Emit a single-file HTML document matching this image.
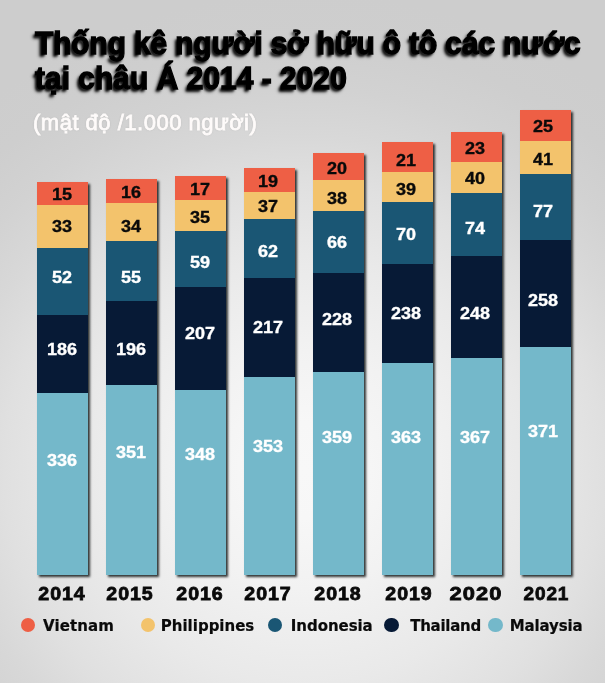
<!DOCTYPE html>
<html lang="vi"><head><meta charset="utf-8"><title>Thống kê người sở hữu ô tô</title>
<style>
html,body{margin:0;padding:0}
body{width:605px;height:683px;overflow:hidden;position:relative;background:#cdcdcd;font-family:"Liberation Sans",sans-serif}
#bg{position:absolute;left:0;top:0;width:605px;height:683px;
 background:radial-gradient(ellipse 500px 477px at 304px 470px, #f8f8f8 0%, #f7f7f7 10%, #f2f2f2 25%, #e9e9e9 45%, #e0e0e0 60%, #d8d8d8 70%, #d2d2d2 80%, #cecece 90%, #cdcdcd 100%)}
.title{margin:0;font-size:30px;font-weight:bold}
.tl{position:absolute;left:35px;height:35px;font-size:30px;line-height:35px;font-weight:bold;color:#000;white-space:nowrap;
 -webkit-text-stroke:1.2px #000;text-shadow:-2.5px 2.5px 3px rgba(0,0,0,.9),-1.5px 1.5px 2px rgba(0,0,0,.6);
 transform-origin:0 27.9px;transform:scaleY(1.06)}
.l1{top:26.4px;letter-spacing:-0.15px}
.l2{top:61.4px}
.sub{position:absolute;left:33px;top:110px;margin:0;font-size:22px;line-height:26px;color:#fefbfa;white-space:nowrap;
 letter-spacing:0.5px;-webkit-text-stroke:0.8px #fefbfa;text-shadow:0 0 2px rgba(130,130,130,.4)}
.bar{position:absolute;width:51.1px;box-shadow:2px 2px 2.2px rgba(15,20,20,.85)}
.seg{position:absolute;left:0;width:100%}
.n{position:absolute;width:60px;margin-left:-30px;text-align:center;font-family:"Liberation Sans",sans-serif;font-weight:bold;font-size:17.0px;line-height:20px;height:20px;letter-spacing:0;-webkit-text-stroke:0.35px currentColor;transform:scaleX(1.06)}
.yr{position:absolute;top:581.5px;width:80px;margin-left:-40px;text-align:center;font-family:"Liberation Sans",sans-serif;font-weight:bold;font-size:19px;line-height:24px;color:#0a0a0a;letter-spacing:0.9px;-webkit-text-stroke:0.8px #0a0a0a;transform:scaleX(1.03)}
.dot{position:absolute;width:14.4px;height:14.4px;border-radius:50%;top:617.6px}
.lg{position:absolute;top:616px;font-family:"DejaVu Sans","Liberation Sans",sans-serif;font-weight:bold;font-size:15px;line-height:20px;color:#0a0a0a;white-space:nowrap;letter-spacing:-0.2px;-webkit-text-stroke:0.2px #0a0a0a}
</style></head><body>
<div id="bg"></div>
<h1 class="title"><span class="tl l1">Thống kê người sở hữu ô tô các nước</span> <span class="tl l2">tại châu Á 2014 - 2020</span></h1>
<p class="sub">(mật độ /1.000 người)</p>

<div class="bar" style="left:37.4px;top:182.0px;height:393.0px">
<div class="seg" style="top:0.0px;height:23.7px;background:#ee5f45"></div>
<div class="seg" style="top:23.4px;height:42.7px;background:#f3c36c"></div>
<div class="seg" style="top:65.8px;height:67.7px;background:#1a5674"></div>
<div class="seg" style="top:133.2px;height:78.1px;background:#071a36"></div>
<div class="seg" style="top:211.0px;height:182.0px;background:#74b8ca"></div>
<div class="n" style="left:24.6px;top:3.4px;color:#0a0a0a">15</div>
<div class="n" style="left:24.6px;top:34.7px;color:#0a0a0a">33</div>
<div class="n" style="left:24.6px;top:85.7px;color:#ffffff">52</div>
<div class="n" style="left:24.6px;top:158.4px;color:#ffffff">186</div>
<div class="n" style="left:24.6px;top:269.0px;color:#ffffff">336</div>
</div>
<div class="yr" style="left:62.2px">2014</div>
<div class="bar" style="left:106.4px;top:179.3px;height:395.7px">
<div class="seg" style="top:0.0px;height:23.9px;background:#ee5f45"></div>
<div class="seg" style="top:23.6px;height:38.7px;background:#f3c36c"></div>
<div class="seg" style="top:62.0px;height:59.8px;background:#1a5674"></div>
<div class="seg" style="top:121.5px;height:84.4px;background:#071a36"></div>
<div class="seg" style="top:205.6px;height:190.1px;background:#74b8ca"></div>
<div class="n" style="left:24.2px;top:4.1px;color:#0a0a0a">16</div>
<div class="n" style="left:24.2px;top:37.4px;color:#0a0a0a">34</div>
<div class="n" style="left:24.2px;top:88.4px;color:#ffffff">55</div>
<div class="n" style="left:24.2px;top:161.1px;color:#ffffff">196</div>
<div class="n" style="left:24.2px;top:263.4px;color:#ffffff">351</div>
</div>
<div class="yr" style="left:129.9px">2015</div>
<div class="bar" style="left:175.4px;top:175.9px;height:399.1px">
<div class="seg" style="top:0.0px;height:24.2px;background:#ee5f45"></div>
<div class="seg" style="top:23.9px;height:31.1px;background:#f3c36c"></div>
<div class="seg" style="top:54.7px;height:56.7px;background:#1a5674"></div>
<div class="seg" style="top:111.1px;height:103.2px;background:#071a36"></div>
<div class="seg" style="top:214.0px;height:185.1px;background:#74b8ca"></div>
<div class="n" style="left:24.2px;top:4.6px;color:#0a0a0a">17</div>
<div class="n" style="left:24.2px;top:31.9px;color:#0a0a0a">35</div>
<div class="n" style="left:24.2px;top:77.1px;color:#ffffff">59</div>
<div class="n" style="left:24.2px;top:147.8px;color:#ffffff">207</div>
<div class="n" style="left:24.2px;top:269.1px;color:#ffffff">348</div>
</div>
<div class="yr" style="left:199.9px">2016</div>
<div class="bar" style="left:244.4px;top:168.0px;height:407.0px">
<div class="seg" style="top:0.0px;height:24.4px;background:#ee5f45"></div>
<div class="seg" style="top:24.1px;height:26.9px;background:#f3c36c"></div>
<div class="seg" style="top:50.7px;height:59.3px;background:#1a5674"></div>
<div class="seg" style="top:109.7px;height:99.5px;background:#071a36"></div>
<div class="seg" style="top:208.9px;height:198.1px;background:#74b8ca"></div>
<div class="n" style="left:24.0px;top:3.5px;color:#0a0a0a">19</div>
<div class="n" style="left:24.0px;top:29.4px;color:#0a0a0a">37</div>
<div class="n" style="left:24.0px;top:74.1px;color:#ffffff">62</div>
<div class="n" style="left:24.0px;top:149.9px;color:#ffffff">217</div>
<div class="n" style="left:24.0px;top:268.7px;color:#ffffff">353</div>
</div>
<div class="yr" style="left:267.7px">2017</div>
<div class="bar" style="left:313.4px;top:153.1px;height:421.9px">
<div class="seg" style="top:0.0px;height:27.0px;background:#ee5f45"></div>
<div class="seg" style="top:26.7px;height:31.1px;background:#f3c36c"></div>
<div class="seg" style="top:57.5px;height:62.4px;background:#1a5674"></div>
<div class="seg" style="top:119.6px;height:99.6px;background:#071a36"></div>
<div class="seg" style="top:218.9px;height:203.0px;background:#74b8ca"></div>
<div class="n" style="left:24.1px;top:5.8px;color:#0a0a0a">20</div>
<div class="n" style="left:24.1px;top:35.9px;color:#0a0a0a">38</div>
<div class="n" style="left:24.1px;top:80.3px;color:#ffffff">66</div>
<div class="n" style="left:24.1px;top:156.6px;color:#ffffff">228</div>
<div class="n" style="left:24.1px;top:275.1px;color:#ffffff">359</div>
</div>
<div class="yr" style="left:338.3px">2018</div>
<div class="bar" style="left:382.4px;top:142.0px;height:433.0px">
<div class="seg" style="top:0.0px;height:30.4px;background:#ee5f45"></div>
<div class="seg" style="top:30.1px;height:30.0px;background:#f3c36c"></div>
<div class="seg" style="top:59.8px;height:62.3px;background:#1a5674"></div>
<div class="seg" style="top:121.8px;height:99.5px;background:#071a36"></div>
<div class="seg" style="top:221.0px;height:212.0px;background:#74b8ca"></div>
<div class="n" style="left:23.6px;top:8.8px;color:#0a0a0a">21</div>
<div class="n" style="left:23.6px;top:38.4px;color:#0a0a0a">39</div>
<div class="n" style="left:23.6px;top:82.9px;color:#ffffff">70</div>
<div class="n" style="left:23.6px;top:161.9px;color:#ffffff">238</div>
<div class="n" style="left:23.6px;top:286.2px;color:#ffffff">363</div>
</div>
<div class="yr" style="left:408.5px">2019</div>
<div class="bar" style="left:451.4px;top:131.9px;height:443.1px">
<div class="seg" style="top:0.0px;height:30.2px;background:#ee5f45"></div>
<div class="seg" style="top:29.9px;height:31.1px;background:#f3c36c"></div>
<div class="seg" style="top:60.7px;height:64.0px;background:#1a5674"></div>
<div class="seg" style="top:124.4px;height:102.2px;background:#071a36"></div>
<div class="seg" style="top:226.3px;height:216.8px;background:#74b8ca"></div>
<div class="n" style="left:23.9px;top:7.4px;color:#0a0a0a">23</div>
<div class="n" style="left:23.9px;top:37.5px;color:#0a0a0a">40</div>
<div class="n" style="left:23.9px;top:87.3px;color:#ffffff">74</div>
<div class="n" style="left:23.9px;top:171.8px;color:#ffffff">248</div>
<div class="n" style="left:23.9px;top:296.3px;color:#ffffff">367</div>
</div>
<div class="yr" style="left:475.9px;transform:scaleX(1.15)">2020</div>
<div class="bar" style="left:520.4px;top:109.7px;height:465.3px">
<div class="seg" style="top:0.0px;height:31.8px;background:#ee5f45"></div>
<div class="seg" style="top:31.5px;height:33.1px;background:#f3c36c"></div>
<div class="seg" style="top:64.3px;height:66.7px;background:#1a5674"></div>
<div class="seg" style="top:130.7px;height:106.5px;background:#071a36"></div>
<div class="seg" style="top:236.9px;height:228.4px;background:#74b8ca"></div>
<div class="n" style="left:23.1px;top:7.6px;color:#0a0a0a">25</div>
<div class="n" style="left:23.1px;top:40.0px;color:#0a0a0a">41</div>
<div class="n" style="left:23.1px;top:92.0px;color:#ffffff">77</div>
<div class="n" style="left:23.1px;top:181.0px;color:#ffffff">258</div>
<div class="n" style="left:23.1px;top:312.0px;color:#ffffff">371</div>
</div>
<div class="yr" style="left:546.4px;transform:scaleX(1.00)">2021</div>
<span class="dot" style="left:21.0px;background:#ee5f45"></span><span class="lg" style="left:43.0px;letter-spacing:0.10px">Vietnam</span>
<span class="dot" style="left:141.0px;background:#f3c36c"></span><span class="lg" style="left:160.8px;letter-spacing:0.00px">Philippines</span>
<span class="dot" style="left:268.0px;background:#1a5674"></span><span class="lg" style="left:290.8px;letter-spacing:-0.05px">Indonesia</span>
<span class="dot" style="left:384.2px;background:#071a36"></span><span class="lg" style="left:410.2px;letter-spacing:-0.27px">Thailand</span>
<span class="dot" style="left:488.3px;background:#74b8ca"></span><span class="lg" style="left:509.8px;letter-spacing:-0.15px">Malaysia</span>
</body></html>
